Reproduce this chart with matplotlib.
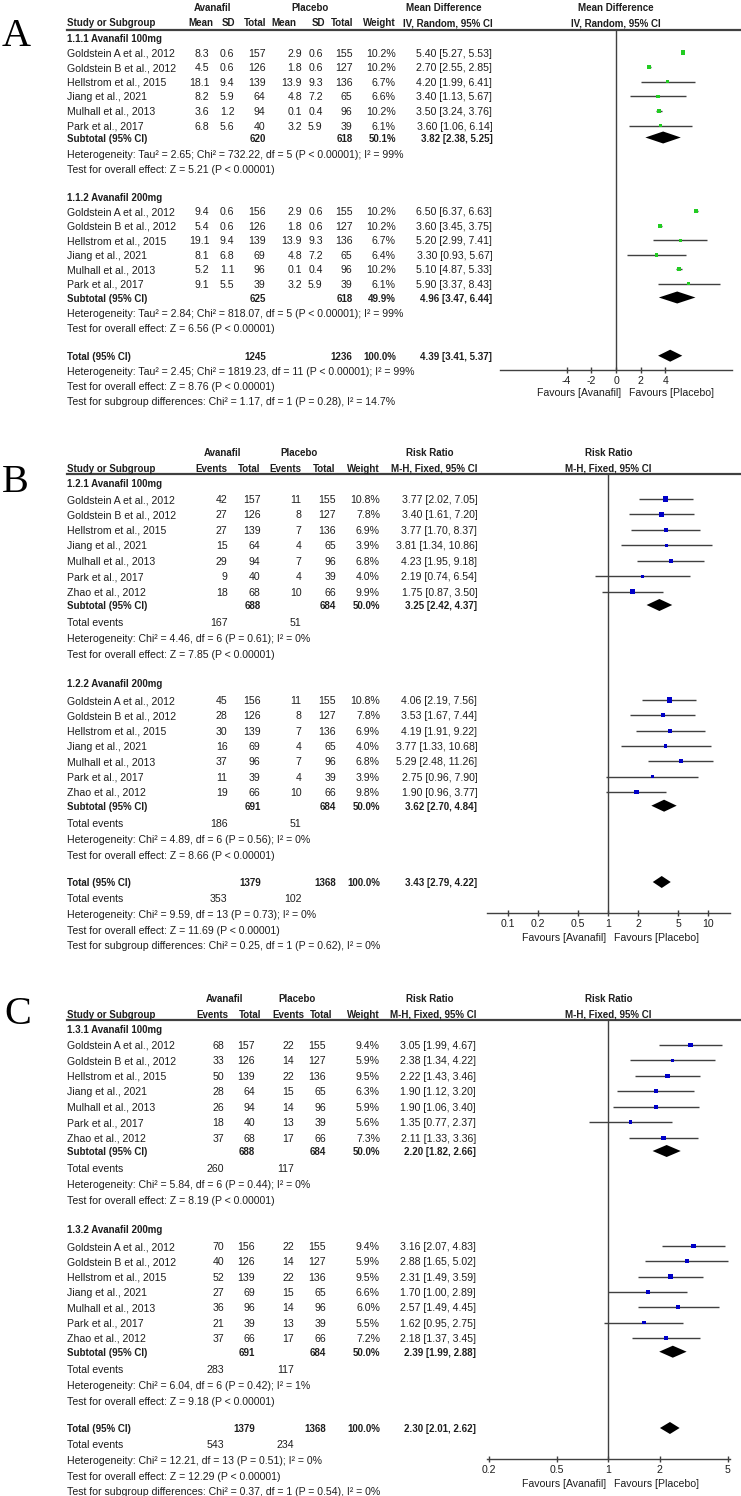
import numpy as np
import matplotlib
matplotlib.use("Agg")
import matplotlib.pyplot as plt
from matplotlib.patches import Polygon

W, H = 741, 1496
plt.rcParams["font.family"] = ["Liberation Sans", "DejaVu Sans"]

# === Datos ===
studies_a = ["Goldstein A et al., 2012", "Goldstein B et al., 2012", "Hellstrom et al., 2015",
             "Jiang et al., 2021", "Mulhall et al., 2013", "Park et al., 2017"]
studies_bc = studies_a + ["Zhao et al., 2012"]

# Panel A: diferencia de medias
a1_mean_av = [8.3, 4.5, 18.1, 8.2, 3.6, 6.8]
a1_sd_av = [0.6, 0.6, 9.4, 5.9, 1.2, 5.6]
a1_n_av = [157, 126, 139, 64, 94, 40]
a1_mean_pl = [2.9, 1.8, 13.9, 4.8, 0.1, 3.2]
a1_sd_pl = [0.6, 0.6, 9.3, 7.2, 0.4, 5.9]
a1_n_pl = [155, 127, 136, 65, 96, 39]
a1_w = [10.2, 10.2, 6.7, 6.6, 10.2, 6.1]
a1_md = [5.40, 2.70, 4.20, 3.40, 3.50, 3.60]
a1_lo = [5.27, 2.55, 1.99, 1.13, 3.24, 1.06]
a1_hi = [5.53, 2.85, 6.41, 5.67, 3.76, 6.14]

a2_mean_av = [9.4, 5.4, 19.1, 8.1, 5.2, 9.1]
a2_sd_av = [0.6, 0.6, 9.4, 6.8, 1.1, 5.5]
a2_n_av = [156, 126, 139, 69, 96, 39]
a2_mean_pl = [2.9, 1.8, 13.9, 4.8, 0.1, 3.2]
a2_sd_pl = [0.6, 0.6, 9.3, 7.2, 0.4, 5.9]
a2_n_pl = [155, 127, 136, 65, 96, 39]
a2_w = [10.2, 10.2, 6.7, 6.4, 10.2, 6.1]
a2_md = [6.50, 3.60, 5.20, 3.30, 5.10, 5.90]
a2_lo = [6.37, 3.45, 2.99, 0.93, 4.87, 3.37]
a2_hi = [6.63, 3.75, 7.41, 5.67, 5.33, 8.43]

a_sub_n_av = [620, 625]
a_sub_n_pl = [618, 618]
a_sub_w = [50.1, 49.9]
a_sub_md = [3.82, 4.96]
a_sub_lo = [2.38, 3.47]
a_sub_hi = [5.25, 6.44]
a_het = ["Heterogeneity: Tau² = 2.65; Chi² = 732.22, df = 5 (P < 0.00001); I² = 99%",
         "Heterogeneity: Tau² = 2.84; Chi² = 818.07, df = 5 (P < 0.00001); I² = 99%"]
a_z = ["Test for overall effect: Z = 5.21 (P < 0.00001)",
       "Test for overall effect: Z = 6.56 (P < 0.00001)"]
a_total_n = [1245, 1236]
a_total_md = [4.39, 3.41, 5.37]
a_total_txt = ["Heterogeneity: Tau² = 2.45; Chi² = 1819.23, df = 11 (P < 0.00001); I² = 99%",
               "Test for overall effect: Z = 8.76 (P < 0.00001)",
               "Test for subgroup differences: Chi² = 1.17, df = 1 (P = 0.28), I² = 14.7%"]
a_ticks = [-4, -2, 0, 2, 4]

# Panel B: razon de riesgo
b1_ev_av = [42, 27, 27, 15, 29, 9, 18]
b1_n_av = [157, 126, 139, 64, 94, 40, 68]
b1_ev_pl = [11, 8, 7, 4, 7, 4, 10]
b1_n_pl = [155, 127, 136, 65, 96, 39, 66]
b1_w = [10.8, 7.8, 6.9, 3.9, 6.8, 4.0, 9.9]
b1_rr = [3.77, 3.40, 3.77, 3.81, 4.23, 2.19, 1.75]
b1_lo = [2.02, 1.61, 1.70, 1.34, 1.95, 0.74, 0.87]
b1_hi = [7.05, 7.20, 8.37, 10.86, 9.18, 6.54, 3.50]

b2_ev_av = [45, 28, 30, 16, 37, 11, 19]
b2_n_av = [156, 126, 139, 69, 96, 39, 66]
b2_ev_pl = [11, 8, 7, 4, 7, 4, 10]
b2_n_pl = [155, 127, 136, 65, 96, 39, 66]
b2_w = [10.8, 7.8, 6.9, 4.0, 6.8, 3.9, 9.8]
b2_rr = [4.06, 3.53, 4.19, 3.77, 5.29, 2.75, 1.90]
b2_lo = [2.19, 1.67, 1.91, 1.33, 2.48, 0.96, 0.96]
b2_hi = [7.56, 7.44, 9.22, 10.68, 11.26, 7.90, 3.77]

b_sub_n_av = [688, 691]
b_sub_n_pl = [684, 684]
b_sub_ev_av = [167, 186]
b_sub_ev_pl = [51, 51]
b_sub_w = [50.0, 50.0]
b_sub_rr = [3.25, 3.62]
b_sub_lo = [2.42, 2.70]
b_sub_hi = [4.37, 4.84]
b_het = ["Heterogeneity: Chi² = 4.46, df = 6 (P = 0.61); I² = 0%",
         "Heterogeneity: Chi² = 4.89, df = 6 (P = 0.56); I² = 0%"]
b_z = ["Test for overall effect: Z = 7.85 (P < 0.00001)",
       "Test for overall effect: Z = 8.66 (P < 0.00001)"]
b_total_n = [1379, 1368]
b_total_ev = [353, 102]
b_total_rr = [3.43, 2.79, 4.22]
b_total_txt = ["Heterogeneity: Chi² = 9.59, df = 13 (P = 0.73); I² = 0%",
               "Test for overall effect: Z = 11.69 (P < 0.00001)",
               "Test for subgroup differences: Chi² = 0.25, df = 1 (P = 0.62), I² = 0%"]
b_ticks = [0.1, 0.2, 0.5, 1, 2, 5, 10]
b_ticklabels = ["0.1", "0.2", "0.5", "1", "2", "5", "10"]

# Panel C: razon de riesgo
c1_ev_av = [68, 33, 50, 28, 26, 18, 37]
c1_n_av = [157, 126, 139, 64, 94, 40, 68]
c1_ev_pl = [22, 14, 22, 15, 14, 13, 17]
c1_n_pl = [155, 127, 136, 65, 96, 39, 66]
c1_w = [9.4, 5.9, 9.5, 6.3, 5.9, 5.6, 7.3]
c1_rr = [3.05, 2.38, 2.22, 1.90, 1.90, 1.35, 2.11]
c1_lo = [1.99, 1.34, 1.43, 1.12, 1.06, 0.77, 1.33]
c1_hi = [4.67, 4.22, 3.46, 3.20, 3.40, 2.37, 3.36]

c2_ev_av = [70, 40, 52, 27, 36, 21, 37]
c2_n_av = [156, 126, 139, 69, 96, 39, 66]
c2_ev_pl = [22, 14, 22, 15, 14, 13, 17]
c2_n_pl = [155, 127, 136, 65, 96, 39, 66]
c2_w = [9.4, 5.9, 9.5, 6.6, 6.0, 5.5, 7.2]
c2_rr = [3.16, 2.88, 2.31, 1.70, 2.57, 1.62, 2.18]
c2_lo = [2.07, 1.65, 1.49, 1.00, 1.49, 0.95, 1.37]
c2_hi = [4.83, 5.02, 3.59, 2.89, 4.45, 2.75, 3.45]

c_sub_n_av = [688, 691]
c_sub_n_pl = [684, 684]
c_sub_ev_av = [260, 283]
c_sub_ev_pl = [117, 117]
c_sub_w = [50.0, 50.0]
c_sub_rr = [2.20, 2.39]
c_sub_lo = [1.82, 1.99]
c_sub_hi = [2.66, 2.88]
c_het = ["Heterogeneity: Chi² = 5.84, df = 6 (P = 0.44); I² = 0%",
         "Heterogeneity: Chi² = 6.04, df = 6 (P = 0.42); I² = 1%"]
c_z = ["Test for overall effect: Z = 8.19 (P < 0.00001)",
       "Test for overall effect: Z = 9.18 (P < 0.00001)"]
c_total_n = [1379, 1368]
c_total_ev = [543, 234]
c_total_rr = [2.30, 2.01, 2.62]
c_total_txt = ["Heterogeneity: Chi² = 12.21, df = 13 (P = 0.51); I² = 0%",
               "Test for overall effect: Z = 12.29 (P < 0.00001)",
               "Test for subgroup differences: Chi² = 0.37, df = 1 (P = 0.54), I² = 0%"]
c_ticks = [0.2, 0.5, 1, 2, 5]
c_ticklabels = ["0.2", "0.5", "1", "2", "5"]

# === Estilo ===
FS = 7.6     # texto normal
FSB = 7.0    # texto en negrita (más estrecho en el original)
TXT = "#1e1e1e"
LINE = "#404040"
GREEN = "#22cc22"
BLUE = "#0000c8"
X0 = 67  # margen izquierdo de la tabla

fig = plt.figure(figsize=(W / 100, H / 100), dpi=100)
bg = fig.add_axes([0, 0, 1, 1])
bg.set_xlim(0, W)
bg.set_ylim(H, 0)
bg.axis("off")


def put(x, y, s, ha="left", bold=False):
    bg.text(x, y, s, ha=ha, va="center_baseline", fontsize=FSB if bold else FS,
            fontweight="bold" if bold else "normal", color=TXT)


def ci_txt(est, lo, hi):
    return f"{est:.2f} [{lo:.2f}, {hi:.2f}]"


def forest_ax(x0, x1, y0, y1, log, xlim, ticks, labels):
    ax = fig.add_axes([x0 / W, 1 - y1 / H, (x1 - x0) / W, (y1 - y0) / H])
    ax.set_facecolor("none")
    if log:
        ax.set_xscale("log")
    ax.set_xlim(*xlim)
    ax.set_ylim(y1, y0)
    ax.set_xticks(ticks)
    ax.set_xticklabels(labels)
    ax.minorticks_off()
    ax.set_yticks([])
    for s in ["left", "right", "top"]:
        ax.spines[s].set_visible(False)
    ax.spines["bottom"].set_color(LINE)
    ax.spines["bottom"].set_linewidth(1.0)
    ax.tick_params(axis="x", direction="inout", length=5, width=1, color=LINE,
                   pad=1.5, labelsize=FS, labelcolor=TXT)
    ax.axvline(1 if log else 0, color=LINE, lw=1.0)
    return ax


def studies_plot(ax, ys, est, lo, hi, w, color, k):
    ax.hlines(ys, lo, hi, color=LINE, lw=1.0, zorder=2)
    ax.scatter(est, ys, s=np.array(w) * k, marker="s", color=color, lw=0, zorder=3)


def diamond(ax, y, est, lo, hi, h=6):
    ax.add_patch(Polygon([(lo, y), (est, y - h), (hi, y), (est, y + h)],
                         closed=True, color="black", lw=0, zorder=3))


def letter(x, y, s):
    bg.text(x, y, s, ha="center", va="center", fontsize=29,
            family="Liberation Serif", color="black")


# ================= Panel A =================
letter(16, 36, "A")
cA = dict(m1=209.5, s1=234.5, n1=265.7, m2=302, s2=322.7, n2=352.7, w=396, ci=492.3)
put(212.5, 7, "Avanafil", "center", True)
put(310, 7, "Placebo", "center", True)
put(443.8, 7, "Mean Difference", "center", True)
put(615.7, 7, "Mean Difference", "center", True)
put(X0, 22, "Study or Subgroup", bold=True)
for x, s in [(213, "Mean"), (235.3, "SD"), (266.7, "Total"), (296.7, "Mean"),
             (325, "SD"), (353.3, "Total"), (396, "Weight"), (492.3, "IV, Random, 95% CI")]:
    put(x, 22, s, "right", True)
put(615.7, 22, "IV, Random, 95% CI", "center", True)
bg.plot([X0, W], [30, 30], color=LINE, lw=1.6)

axA = forest_ax(500, 732, 30, 370, False, (-9.4, 9.4), a_ticks, [str(t) for t in a_ticks])

groups_a = [
    ("1.1.1 Avanafil 100mg", a1_mean_av, a1_sd_av, a1_n_av, a1_mean_pl, a1_sd_pl, a1_n_pl,
     a1_w, a1_md, a1_lo, a1_hi, 38, 52.5, 14.6, 137.5, 153.5, 168.5),
    ("1.1.2 Avanafil 200mg", a2_mean_av, a2_sd_av, a2_n_av, a2_mean_pl, a2_sd_pl, a2_n_pl,
     a2_w, a2_md, a2_lo, a2_hi, 196.7, 211.4, 14.5, 297.5, 313, 327.5),
]
for g, (name, m1, s1, n1, m2, s2, n2, w, md, lo, hi, yh, yf, dy, ysub, yhet, yz) in enumerate(groups_a):
    put(X0, yh, name, bold=True)
    ys = yf + dy * np.arange(len(md))
    for i, y in enumerate(ys):
        put(X0, y, studies_a[i])
        put(cA["m1"], y, f"{m1[i]:.1f}", "right")
        put(cA["s1"], y, f"{s1[i]:.1f}", "right")
        put(cA["n1"], y, str(n1[i]), "right")
        put(cA["m2"], y, f"{m2[i]:.1f}", "right")
        put(cA["s2"], y, f"{s2[i]:.1f}", "right")
        put(cA["n2"], y, str(n2[i]), "right")
        put(cA["w"], y, f"{w[i]:.1f}%", "right")
        put(cA["ci"], y, ci_txt(md[i], lo[i], hi[i]), "right")
    studies_plot(axA, ys, md, lo, hi, w, GREEN, 0.85)
    put(X0, ysub, "Subtotal (95% CI)", bold=True)
    put(cA["n1"], ysub, str(a_sub_n_av[g]), "right", True)
    put(cA["n2"], ysub, str(a_sub_n_pl[g]), "right", True)
    put(cA["w"], ysub, f"{a_sub_w[g]:.1f}%", "right", True)
    put(cA["ci"], ysub, ci_txt(a_sub_md[g], a_sub_lo[g], a_sub_hi[g]), "right", True)
    diamond(axA, ysub, a_sub_md[g], a_sub_lo[g], a_sub_hi[g])
    put(X0, yhet, a_het[g])
    put(X0, yz, a_z[g])

put(X0, 355.7, "Total (95% CI)", bold=True)
put(cA["n1"], 355.7, str(a_total_n[0]), "right", True)
put(cA["n2"], 355.7, str(a_total_n[1]), "right", True)
put(cA["w"], 355.7, "100.0%", "right", True)
put(cA["ci"], 355.7, ci_txt(*a_total_md), "right", True)
diamond(axA, 355.7, *a_total_md)
for y, s in zip([371, 385.5, 400.5], a_total_txt):
    put(X0, y, s)
put(621, 392, "Favours [Avanafil]", "right")
put(629, 392, "Favours [Placebo]", "left")


# ================= Panels B y C =================
def rr_panel(y0, cols, groups, sub, het, z, total_n, total_ev, total_rr, total_txt,
             code, axlim, ticks, ticklabels):
    put(cols["hav"], y0, "Avanafil", "center", True)
    put(cols["hpl"], y0, "Placebo", "center", True)
    put(cols["hrr"], y0, "Risk Ratio", "center", True)
    put(608.3, y0, "Risk Ratio", "center", True)
    y2 = y0 + 16
    put(X0, y2, "Study or Subgroup", bold=True)
    for x, s in [(cols["he1"], "Events"), (cols["hn1"], "Total"), (cols["he2"], "Events"),
                 (cols["hn2"], "Total"), (cols["hw"], "Weight"), (cols["ci"], "M-H, Fixed, 95% CI")]:
        put(x, y2, s, "right", True)
    put(608.3, y2, "M-H, Fixed, 95% CI", "center", True)
    bg.plot([X0, W], [y0 + 22.3, y0 + 22.3], color=LINE, lw=1.6)

    yaxis = y0 + 461.3
    ax = forest_ax(axlim[0], axlim[1], y0 + 22.3, yaxis, True, axlim[2], ticks, ticklabels)

    offs = [(31, 47.3, 15.45, 153.3), (231, 248.3, 15.33, 354)]
    for g, (e1, n1, e2, n2, w, rr, lo, hi) in enumerate(groups):
        oh, of, dy, osub = offs[g]
        put(X0, y0 + oh, f"{code}.{g + 1} Avanafil {100 * (g + 1)}mg", bold=True)
        ys = y0 + of + dy * np.arange(len(rr))
        for i, y in enumerate(ys):
            put(X0, y, studies_bc[i])
            put(cols["e1"], y, str(e1[i]), "right")
            put(cols["n1"], y, str(n1[i]), "right")
            put(cols["e2"], y, str(e2[i]), "right")
            put(cols["n2"], y, str(n2[i]), "right")
            put(cols["w"], y, f"{w[i]:.1f}%", "right")
            put(cols["ci"], y, ci_txt(rr[i], lo[i], hi[i]), "right")
        studies_plot(ax, ys, rr, lo, hi, w, BLUE, 1.25)
        ysub = y0 + osub
        put(X0, ysub, "Subtotal (95% CI)", bold=True)
        put(cols["n1"], ysub, str(sub["n_av"][g]), "right", True)
        put(cols["n2"], ysub, str(sub["n_pl"][g]), "right", True)
        put(cols["w"], ysub, f"{sub['w'][g]:.1f}%", "right", True)
        put(cols["ci"], ysub, ci_txt(sub["rr"][g], sub["lo"][g], sub["hi"][g]), "right", True)
        diamond(ax, ysub, sub["rr"][g], sub["lo"][g], sub["hi"][g])
        put(X0, ysub + 17, "Total events")
        put(cols["e1"], ysub + 17, str(sub["ev_av"][g]), "right")
        put(cols["e2"], ysub + 17, str(sub["ev_pl"][g]), "right")
        put(X0, ysub + 33.3, het[g])
        put(X0, ysub + 49, z[g])

    yt = y0 + 430.3
    put(X0, yt, "Total (95% CI)", bold=True)
    put(cols["n1"], yt, str(total_n[0]), "right", True)
    put(cols["n2"], yt, str(total_n[1]), "right", True)
    put(cols["w"], yt, "100.0%", "right", True)
    put(cols["ci"], yt, ci_txt(*total_rr), "right", True)
    diamond(ax, yt, *total_rr)
    put(X0, yt + 16, "Total events")
    put(cols["e1"], yt + 16, str(total_ev[0]), "right")
    put(cols["e2"], yt + 16, str(total_ev[1]), "right")
    for k, s in enumerate(total_txt):
        put(X0, yt + 32 + 15.5 * k, s)
    put(606, y0 + 485.3, "Favours [Avanafil]", "right")
    put(614, y0 + 485.3, "Favours [Placebo]", "left")


cB = dict(e1=227.7, n1=260.7, e2=301.7, n2=336, w=380, ci=477.3,
          he1=227.7, hn1=260.7, he2=301.7, hn2=335, hw=380, hav=223, hpl=299, hrr=429.3)
letter(15, 482, "B")
rr_panel(451.7, cB,
         [(b1_ev_av, b1_n_av, b1_ev_pl, b1_n_pl, b1_w, b1_rr, b1_lo, b1_hi),
          (b2_ev_av, b2_n_av, b2_ev_pl, b2_n_pl, b2_w, b2_rr, b2_lo, b2_hi)],
         dict(n_av=b_sub_n_av, n_pl=b_sub_n_pl, ev_av=b_sub_ev_av, ev_pl=b_sub_ev_pl,
              w=b_sub_w, rr=b_sub_rr, lo=b_sub_lo, hi=b_sub_hi),
         b_het, b_z, b_total_n, b_total_ev, b_total_rr, b_total_txt, "1.2",
         (487, 730, (10 ** -1.212, 10 ** 1.218)), b_ticks, b_ticklabels)

cC = dict(e1=224, n1=255, e2=294, n2=326, w=380, ci=476,
          he1=228, hn1=261, he2=304, hn2=332, hw=380, hav=225, hpl=297, hrr=430)
letter(18, 1015, "C")
rr_panel(997.7, cC,
         [(c1_ev_av, c1_n_av, c1_ev_pl, c1_n_pl, c1_w, c1_rr, c1_lo, c1_hi),
          (c2_ev_av, c2_n_av, c2_ev_pl, c2_n_pl, c2_w, c2_rr, c2_lo, c2_hi)],
         dict(n_av=c_sub_n_av, n_pl=c_sub_n_pl, ev_av=c_sub_ev_av, ev_pl=c_sub_ev_pl,
              w=c_sub_w, rr=c_sub_rr, lo=c_sub_lo, hi=c_sub_hi),
         c_het, c_z, c_total_n, c_total_ev, c_total_rr, c_total_txt, "1.3",
         (487, 730, (0.195, 5.17)), c_ticks, c_ticklabels)

fig.savefig("out.png", dpi=100)
plt.close(fig)
